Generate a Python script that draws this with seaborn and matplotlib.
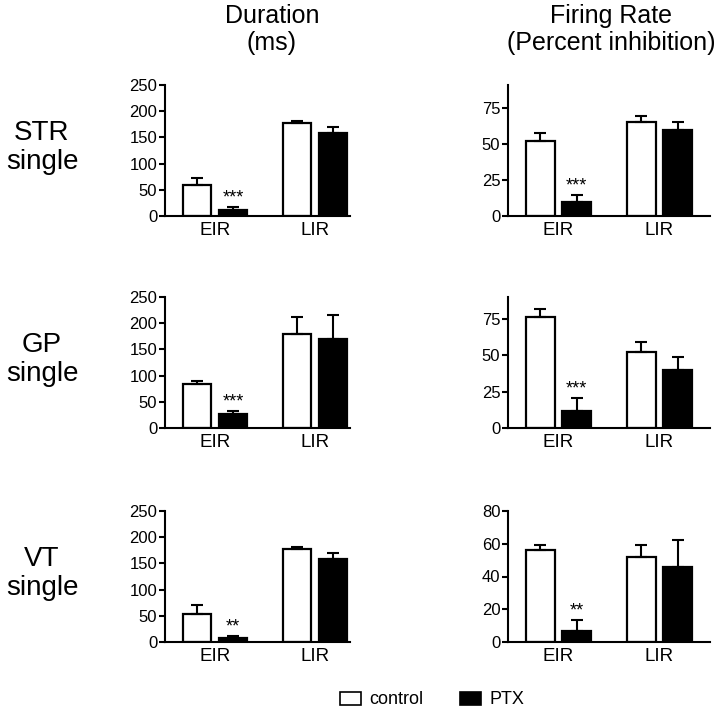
import pandas as pd
import seaborn as sns
import matplotlib.pyplot as plt
from matplotlib.patches import Patch

sns.set_style("ticks")
plt.rcParams['font.family'] = ['Liberation Sans', 'DejaVu Sans']
plt.rcParams['text.color'] = 'black'
plt.rcParams['xtick.color'] = 'black'
plt.rcParams['ytick.color'] = 'black'
plt.rcParams['axes.edgecolor'] = 'black'

windows = ["EIR", "LIR"]
groups = ["control", "PTX"]
regions = ["STR", "GP", "VT"]

# duration (ms), rows = STR, GP, VT ; cols = EIR, LIR
dur_control = [[60, 177], [84, 180], [54, 177]]
dur_control_err = [[13, 4], [6, 31], [16, 4]]
dur_ptx = [[11, 158], [27, 170], [8, 158]]
dur_ptx_err = [[6, 12], [5, 46], [4, 12]]
dur_stars = ["***", "***", "**"]

# firing rate (percent inhibition)
fire_control = [[52, 65.5], [76.5, 52.5], [56, 52]]
fire_control_err = [[6, 4], [5.5, 6.5], [3, 7]]
fire_ptx = [[9.5, 60], [12, 40], [6.5, 45.5]]
fire_ptx_err = [[5, 5], [8.5, 8.5], [7, 17]]
fire_stars = ["***", "***", "**"]

dur_ylim = [250, 250, 250]
dur_ticks = [[0, 50, 100, 150, 200, 250]] * 3
fire_ylim = [91, 90, 80]
fire_ticks = [[0, 25, 50, 75], [0, 25, 50, 75], [0, 20, 40, 60, 80]]

colors = {"control": "white", "PTX": "black"}


def draw_panel(ax, control, control_err, ptx, ptx_err, stars, top, ticks, xmax):
    df = pd.DataFrame({
        "window": windows * 2,
        "group": ["control"] * 2 + ["PTX"] * 2,
        "value": list(control) + list(ptx),
    })
    sns.barplot(data=df, x="window", y="value", hue="group", order=windows,
                hue_order=groups, palette=colors, edgecolor="black",
                linewidth=1.6, width=0.72, gap=0.22, errorbar=None,
                legend=False, ax=ax)
    for cont, errs in zip(ax.containers, [control_err, ptx_err]):
        for bar, e in zip(cont, errs):
            x = bar.get_x() + bar.get_width() / 2
            h = bar.get_height()
            ax.errorbar(x, h, yerr=[[0], [e]], fmt="none", ecolor="black",
                        elinewidth=1.5, capsize=4.5, capthick=1.5)
    # stars above the PTX EIR bar
    bar = ax.containers[1][0]
    ax.text(bar.get_x() + bar.get_width() / 2,
            bar.get_height() + ptx_err[0] + top * 0.005, stars,
            ha="center", va="bottom", fontsize=13)
    ax.set_ylim(0, top)
    ax.set_yticks(ticks)
    ax.set_xlim(-0.5, xmax)
    ax.set_xlabel("")
    ax.set_ylabel("")
    ax.tick_params(axis="x", length=0, labelsize=13.5, pad=4)
    ax.tick_params(axis="y", length=4, width=1.5, labelsize=12, pad=1.5)
    sns.despine(ax=ax)
    for s in ["left", "bottom"]:
        ax.spines[s].set_linewidth(1.5)


fig = plt.figure(figsize=(7.2, 7.13), dpi=100)
W, H = 720, 713
zeros = [216, 428, 642]
ph = 131

for i, reg in enumerate(regions):
    bottom = 1 - zeros[i] / H
    ax1 = fig.add_axes([165 / W, bottom, 185 / W, ph / H])
    draw_panel(ax1, dur_control[i], dur_control_err[i], dur_ptx[i],
               dur_ptx_err[i], dur_stars[i], dur_ylim[i], dur_ticks[i], 1.35)
    ax2 = fig.add_axes([508 / W, bottom, 202 / W, ph / H])
    draw_panel(ax2, fire_control[i], fire_control_err[i], fire_ptx[i],
               fire_ptx_err[i], fire_stars[i], fire_ylim[i], fire_ticks[i], 1.5)
    fig.text(42 / W, 1 - (zeros[i] - ph / 2 - 3) / H, reg + "\nsingle",
             ha="center", va="center", fontsize=20, linespacing=1.15)

fig.text(272 / W, 1 - 4 / H, "Duration\n(ms)", ha="center", va="top",
         fontsize=18, linespacing=1.15)
fig.text(611 / W, 1 - 4 / H, "Firing Rate\n(Percent inhibition)", ha="center",
         va="top", fontsize=18, linespacing=1.15)

handles = [Patch(facecolor="white", edgecolor="black", linewidth=1.2, label="control"),
           Patch(facecolor="black", edgecolor="black", linewidth=1.2, label="PTX")]
fig.legend(handles=handles, loc="center", bbox_to_anchor=(0.6, 1 - 700 / H),
           ncol=2, frameon=False, fontsize=13, handlelength=1.2,
           handleheight=0.7, columnspacing=2.0, handletextpad=0.45)

fig.savefig("out.png", dpi=100)
